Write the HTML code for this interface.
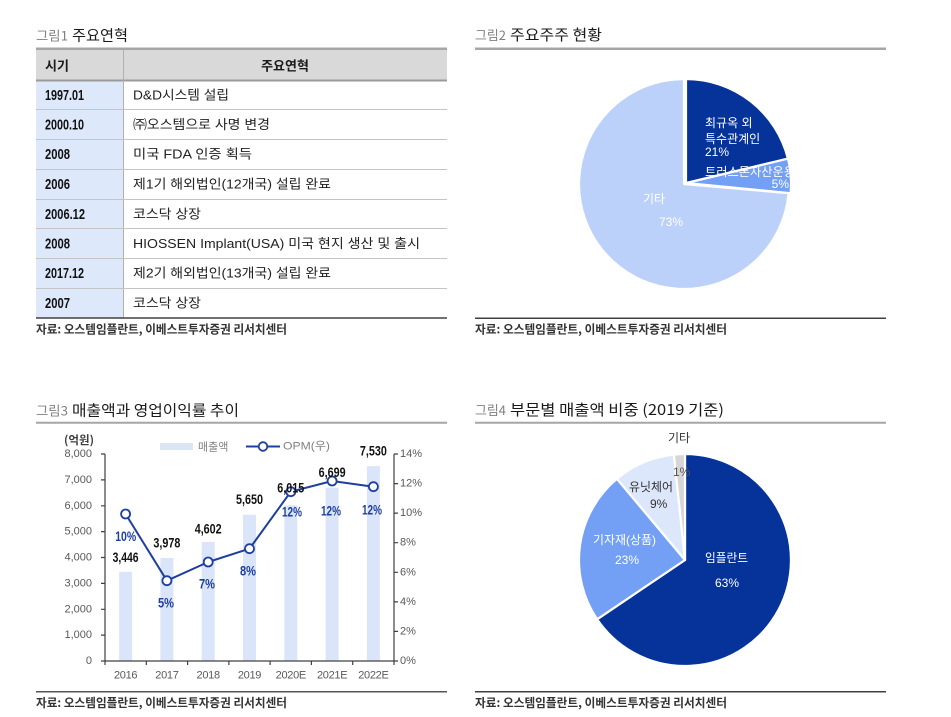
<!DOCTYPE html>
<html><head><meta charset="utf-8"><style>
html,body{margin:0;padding:0;background:#fff;}
svg{display:block;}
text{font-family:"Liberation Sans","Noto Sans CJK KR",sans-serif;}
.k{font-family:"Noto Sans CJK KR","Liberation Sans",sans-serif;}
</style></head><body>
<svg width="951" height="717" viewBox="0 0 951 717" xmlns="http://www.w3.org/2000/svg">
<rect width="951" height="717" fill="#fff"/>

<!-- ===== Fig 1 table ===== -->
<text x="36" y="35" dominant-baseline="central" font-size="13" fill="#808080" class="k" textLength="32" lengthAdjust="spacingAndGlyphs">그림1</text>
<text x="72" y="35" dominant-baseline="central" font-size="15" fill="#1a1a1a" class="k" textLength="56" lengthAdjust="spacingAndGlyphs">주요연혁</text>
<rect x="36" y="50" width="411" height="30" fill="#d9d9d9"/>
<rect x="36" y="81" width="87" height="237" fill="#dde8fb"/>
<line x1="36" y1="48.8" x2="447" y2="48.8" stroke="#a6a6a6" stroke-width="2.5"/>
<line x1="36" y1="80.5" x2="447" y2="80.5" stroke="#9a9a9a" stroke-width="2"/>
<line x1="123.5" y1="50" x2="123.5" y2="318" stroke="#b0b0b0" stroke-width="1"/>
<g stroke="#c4c4c4" stroke-width="1">
<line x1="36" y1="109.5" x2="447" y2="109.5"/>
<line x1="36" y1="139.5" x2="447" y2="139.5"/>
<line x1="36" y1="169.5" x2="447" y2="169.5"/>
<line x1="36" y1="199.5" x2="447" y2="199.5"/>
<line x1="36" y1="228.5" x2="447" y2="228.5"/>
<line x1="36" y1="258.5" x2="447" y2="258.5"/>
<line x1="36" y1="288.5" x2="447" y2="288.5"/>
</g>
<line x1="36" y1="318" x2="447" y2="318" stroke="#404040" stroke-width="1.5"/>
<text x="45" y="65" dominant-baseline="central" font-size="13" font-weight="bold" fill="#1a1a1a" class="k">시기</text>
<text x="285" y="65" dominant-baseline="central" text-anchor="middle" font-size="13" font-weight="bold" fill="#1a1a1a" class="k">주요연혁</text>
<g font-size="15" font-weight="bold" fill="#111">
<text x="45" y="95.5" dominant-baseline="central" textLength="39" lengthAdjust="spacingAndGlyphs">1997.01</text>
<text x="45" y="125" dominant-baseline="central" textLength="39" lengthAdjust="spacingAndGlyphs">2000.10</text>
<text x="45" y="154.5" dominant-baseline="central" textLength="25" lengthAdjust="spacingAndGlyphs">2008</text>
<text x="45" y="184.5" dominant-baseline="central" textLength="25" lengthAdjust="spacingAndGlyphs">2006</text>
<text x="45" y="214.5" dominant-baseline="central" textLength="40" lengthAdjust="spacingAndGlyphs">2006.12</text>
<text x="45" y="244" dominant-baseline="central" textLength="25" lengthAdjust="spacingAndGlyphs">2008</text>
<text x="45" y="273.5" dominant-baseline="central" textLength="39" lengthAdjust="spacingAndGlyphs">2017.12</text>
<text x="45" y="303.5" dominant-baseline="central" textLength="25" lengthAdjust="spacingAndGlyphs">2007</text>
</g>
<g font-size="13" fill="#222">
<text x="133" y="95" dominant-baseline="central" textLength="96" lengthAdjust="spacingAndGlyphs">D&amp;D시스템 설립</text>
<text x="133" y="124.5" dominant-baseline="central" textLength="137" lengthAdjust="spacingAndGlyphs">㈜오스템으로 사명 변경</text>
<text x="133" y="154" dominant-baseline="central" textLength="119" lengthAdjust="spacingAndGlyphs">미국 FDA 인증 획득</text>
<text x="133" y="184" dominant-baseline="central" textLength="198" lengthAdjust="spacingAndGlyphs">제1기 해외법인(12개국) 설립 완료</text>
<text x="133" y="214" dominant-baseline="central" textLength="68" lengthAdjust="spacingAndGlyphs">코스닥 상장</text>
<text x="133" y="243.5" dominant-baseline="central" textLength="287" lengthAdjust="spacingAndGlyphs">HIOSSEN Implant(USA) 미국 현지 생산 및 출시</text>
<text x="133" y="273" dominant-baseline="central" textLength="198" lengthAdjust="spacingAndGlyphs">제2기 해외법인(13개국) 설립 완료</text>
<text x="133" y="303" dominant-baseline="central" textLength="68" lengthAdjust="spacingAndGlyphs">코스닥 상장</text>
</g>
<text x="36" y="329" dominant-baseline="central" font-size="12" font-weight="bold" fill="#333" class="k" textLength="251" lengthAdjust="spacingAndGlyphs">자료: 오스템임플란트, 이베스트투자증권 리서치센터</text>

<!-- ===== Fig 2 pie ===== -->
<text x="475" y="34.5" dominant-baseline="central" font-size="13" fill="#808080" class="k" textLength="31" lengthAdjust="spacingAndGlyphs">그림2</text>
<text x="510" y="34.5" dominant-baseline="central" font-size="15" fill="#1a1a1a" class="k" textLength="92" lengthAdjust="spacingAndGlyphs">주요주주 현황</text>
<line x1="475" y1="48.8" x2="886" y2="48.8" stroke="#a6a6a6" stroke-width="2.5"/>
<g stroke="#fff" stroke-width="2.2" stroke-linejoin="round">
<path d="M684,184 L788.6,193.2 A105,105 0 1 1 684,79 Z" fill="#bcd1fa"/>
<path d="M686,183 L788,158.6 A105,105 0 0 1 790.6,193.2 Z" fill="#739ff4"/>
<path d="M686,183 L686,79 A105,105 0 0 1 787.9,158.6 Z" fill="#05339a"/>
</g>
<g font-size="12" fill="#fff" class="k">
<text x="705" y="123" dominant-baseline="central">최규옥 외</text>
<text x="705" y="139" dominant-baseline="central">특수관계인</text>
<text x="705" y="152" dominant-baseline="central">21%</text>
<text x="705" y="172" dominant-baseline="central" textLength="90" lengthAdjust="spacingAndGlyphs">트러스톤자산운용</text>
<text x="789" y="184" dominant-baseline="central" text-anchor="end">5%</text>
<text x="643" y="199" dominant-baseline="central">기타</text>
<text x="659" y="222" dominant-baseline="central">73%</text>
</g>
<line x1="475" y1="318.3" x2="886" y2="318.3" stroke="#404040" stroke-width="1.5"/>
<text x="475" y="329" dominant-baseline="central" font-size="12" font-weight="bold" fill="#333" class="k" textLength="252" lengthAdjust="spacingAndGlyphs">자료: 오스템임플란트, 이베스트투자증권 리서치센터</text>

<!-- ===== Fig 3 chart ===== -->
<text x="36" y="410" dominant-baseline="central" font-size="13" fill="#808080" class="k" textLength="32" lengthAdjust="spacingAndGlyphs">그림3</text>
<text x="72" y="410" dominant-baseline="central" font-size="15" fill="#1a1a1a" class="k" textLength="167" lengthAdjust="spacingAndGlyphs">매출액과 영업이익률 추이</text>
<line x1="36" y1="422.8" x2="447" y2="422.8" stroke="#a6a6a6" stroke-width="2"/>

<text x="64" y="440" dominant-baseline="central" font-size="11.5" font-weight="bold" fill="#404040" class="k" textLength="30" lengthAdjust="spacingAndGlyphs">(억원)</text>
<!-- legend -->
<rect x="160" y="443" width="33" height="7" fill="#dae5fa"/>
<text x="198" y="446.5" dominant-baseline="central" font-size="11" fill="#808080" class="k">매출액</text>
<line x1="246" y1="446.5" x2="280" y2="446.5" stroke="#1f3f9f" stroke-width="2"/>
<circle cx="263" cy="446.5" r="4.3" fill="#fff" stroke="#1f3f9f" stroke-width="1.8"/>
<text x="283" y="446.5" dominant-baseline="central" font-size="11" fill="#808080" textLength="47" lengthAdjust="spacingAndGlyphs">OPM(우)</text>

<!-- bars -->
<g fill="#dae5fa">
<rect x="119.1" y="571.8" width="13" height="89.2"/>
<rect x="160.4" y="558.0" width="13" height="103.0"/>
<rect x="201.7" y="541.9" width="13" height="119.1"/>
<rect x="243.0" y="514.8" width="13" height="146.2"/>
<rect x="284.3" y="505.3" width="13" height="155.7"/>
<rect x="325.6" y="487.6" width="13" height="173.4"/>
<rect x="366.9" y="466.1" width="13" height="194.9"/>
</g>

<!-- axes -->
<g stroke="#404040" stroke-width="1.2" fill="none">
<line x1="105" y1="454" x2="105" y2="661"/>
<line x1="394" y1="454" x2="394" y2="661"/>
<line x1="105" y1="661" x2="394" y2="661"/>
<path d="M101,454H105 M101,479.9H105 M101,505.8H105 M101,531.6H105 M101,557.5H105 M101,583.4H105 M101,609.3H105 M101,635.1H105 M101,661H105"/>
<path d="M394,454H398 M394,483.6H398 M394,513.1H398 M394,542.7H398 M394,572.3H398 M394,601.9H398 M394,631.4H398 M394,661H398"/>
<path d="M105,661V665 M146.3,661V665 M187.6,661V665 M228.9,661V665 M270.1,661V665 M311.4,661V665 M352.7,661V665 M394,661V665"/>
</g>
<g font-size="11" fill="#595959" text-anchor="end">
<text x="92" y="454" dominant-baseline="central">8,000</text>
<text x="92" y="479.9" dominant-baseline="central">7,000</text>
<text x="92" y="505.8" dominant-baseline="central">6,000</text>
<text x="92" y="531.6" dominant-baseline="central">5,000</text>
<text x="92" y="557.5" dominant-baseline="central">4,000</text>
<text x="92" y="583.4" dominant-baseline="central">3,000</text>
<text x="92" y="609.3" dominant-baseline="central">2,000</text>
<text x="92" y="635.1" dominant-baseline="central">1,000</text>
<text x="92" y="661" dominant-baseline="central">0</text>
</g>
<g font-size="11" fill="#595959">
<text x="400" y="454" dominant-baseline="central">14%</text>
<text x="400" y="483.6" dominant-baseline="central">12%</text>
<text x="400" y="513.1" dominant-baseline="central">10%</text>
<text x="400" y="542.7" dominant-baseline="central">8%</text>
<text x="400" y="572.3" dominant-baseline="central">6%</text>
<text x="400" y="601.9" dominant-baseline="central">4%</text>
<text x="400" y="631.4" dominant-baseline="central">2%</text>
<text x="400" y="661" dominant-baseline="central">0%</text>
</g>
<g font-size="11" fill="#595959" text-anchor="middle" letter-spacing="-0.3">
<text x="125.6" y="675.5" dominant-baseline="central">2016</text>
<text x="166.9" y="675.5" dominant-baseline="central">2017</text>
<text x="208.2" y="675.5" dominant-baseline="central">2018</text>
<text x="249.5" y="675.5" dominant-baseline="central">2019</text>
<text x="290.8" y="675.5" dominant-baseline="central">2020E</text>
<text x="332.1" y="675.5" dominant-baseline="central">2021E</text>
<text x="373.4" y="675.5" dominant-baseline="central">2022E</text>
</g>

<!-- line -->
<polyline points="125.6,514 166.9,580.7 208.2,562 249.5,548.7 290.8,491.7 332.1,481 373.4,486.7" fill="none" stroke="#1f3f9f" stroke-width="2" stroke-linejoin="round"/>
<g fill="#fff" stroke="#1f3f9f" stroke-width="1.8">
<circle cx="125.6" cy="514" r="4.5"/>
<circle cx="166.9" cy="580.7" r="4.5"/>
<circle cx="208.2" cy="562" r="4.5"/>
<circle cx="249.5" cy="548.7" r="4.5"/>
<circle cx="290.8" cy="491.7" r="4.5"/>
<circle cx="332.1" cy="481" r="4.5"/>
<circle cx="373.4" cy="486.7" r="4.5"/>
</g>

<!-- bar labels -->
<g font-size="14" font-weight="bold" fill="#111">
<text x="112.6" y="557" dominant-baseline="central" textLength="26" lengthAdjust="spacingAndGlyphs">3,446</text>
<text x="153.4" y="542.5" dominant-baseline="central" textLength="27" lengthAdjust="spacingAndGlyphs">3,978</text>
<text x="194.7" y="528.5" dominant-baseline="central" textLength="27" lengthAdjust="spacingAndGlyphs">4,602</text>
<text x="236" y="499" dominant-baseline="central" textLength="27" lengthAdjust="spacingAndGlyphs">5,650</text>
<text x="277.3" y="487.5" dominant-baseline="central" textLength="27" lengthAdjust="spacingAndGlyphs">6,015</text>
<text x="318.6" y="472" dominant-baseline="central" textLength="27" lengthAdjust="spacingAndGlyphs">6,699</text>
<text x="359.9" y="450.5" dominant-baseline="central" textLength="27" lengthAdjust="spacingAndGlyphs">7,530</text>
</g>
<g font-size="14" font-weight="bold" fill="#1f3f9f">
<text x="115.2" y="536" dominant-baseline="central" textLength="21" lengthAdjust="spacingAndGlyphs">10%</text>
<text x="158" y="602.5" dominant-baseline="central" textLength="16" lengthAdjust="spacingAndGlyphs">5%</text>
<text x="199" y="583.5" dominant-baseline="central" textLength="16" lengthAdjust="spacingAndGlyphs">7%</text>
<text x="240" y="570.5" dominant-baseline="central" textLength="16" lengthAdjust="spacingAndGlyphs">8%</text>
<text x="282" y="511.5" dominant-baseline="central" textLength="20" lengthAdjust="spacingAndGlyphs">12%</text>
<text x="321" y="510.5" dominant-baseline="central" textLength="20" lengthAdjust="spacingAndGlyphs">12%</text>
<text x="362" y="509.5" dominant-baseline="central" textLength="20" lengthAdjust="spacingAndGlyphs">12%</text>
</g>

<line x1="36" y1="691.7" x2="447" y2="691.7" stroke="#555" stroke-width="1.5"/>
<text x="36" y="702.7" dominant-baseline="central" font-size="12" font-weight="bold" fill="#333" class="k" textLength="251" lengthAdjust="spacingAndGlyphs">자료: 오스템임플란트, 이베스트투자증권 리서치센터</text>

<!-- ===== Fig 4 pie ===== -->
<text x="475" y="409.5" dominant-baseline="central" font-size="13" fill="#808080" class="k" textLength="31" lengthAdjust="spacingAndGlyphs">그림4</text>
<text x="510" y="409.5" dominant-baseline="central" font-size="15" fill="#1a1a1a" class="k" textLength="214" lengthAdjust="spacingAndGlyphs">부문별 매출액 비중 (2019 기준)</text>
<line x1="475" y1="422.7" x2="886" y2="422.7" stroke="#a6a6a6" stroke-width="2"/>
<g stroke="#fff" stroke-width="2.2" stroke-linejoin="round">
<path d="M685,560 L685,454 A106,106 0 1 1 597.1,619.3 Z" fill="#05339a"/>
<path d="M685,560 L597.1,619.3 A106,106 0 0 1 616.9,478.8 Z" fill="#73a0f5"/>
<path d="M685,560 L616.9,478.8 A106,106 0 0 1 673.9,454.6 Z" fill="#dde7fb"/>
<path d="M685,560 L673.9,454.6 A106,106 0 0 1 685,454 Z" fill="#d6d6d6"/>
</g>
<g font-size="12" class="k">
<text x="705" y="558" dominant-baseline="central" fill="#fff" textLength="43" lengthAdjust="spacingAndGlyphs">임플란트</text>
<text x="715" y="583" dominant-baseline="central" fill="#fff">63%</text>
<text x="593" y="540" dominant-baseline="central" fill="#fff" textLength="63" lengthAdjust="spacingAndGlyphs">기자재(상품)</text>
<text x="615" y="560" dominant-baseline="central" fill="#fff">23%</text>
<text x="629" y="487" dominant-baseline="central" fill="#333" textLength="44" lengthAdjust="spacingAndGlyphs">유닛체어</text>
<text x="650" y="504" dominant-baseline="central" fill="#333">9%</text>
<text x="673" y="472" dominant-baseline="central" fill="#555">1%</text>
<text x="668" y="438" dominant-baseline="central" fill="#333">기타</text>
</g>
<line x1="475" y1="691.7" x2="886" y2="691.7" stroke="#404040" stroke-width="1.5"/>
<text x="475" y="702.5" dominant-baseline="central" font-size="12" font-weight="bold" fill="#333" class="k" textLength="252" lengthAdjust="spacingAndGlyphs">자료: 오스템임플란트, 이베스트투자증권 리서치센터</text>
</svg>
</body></html>
